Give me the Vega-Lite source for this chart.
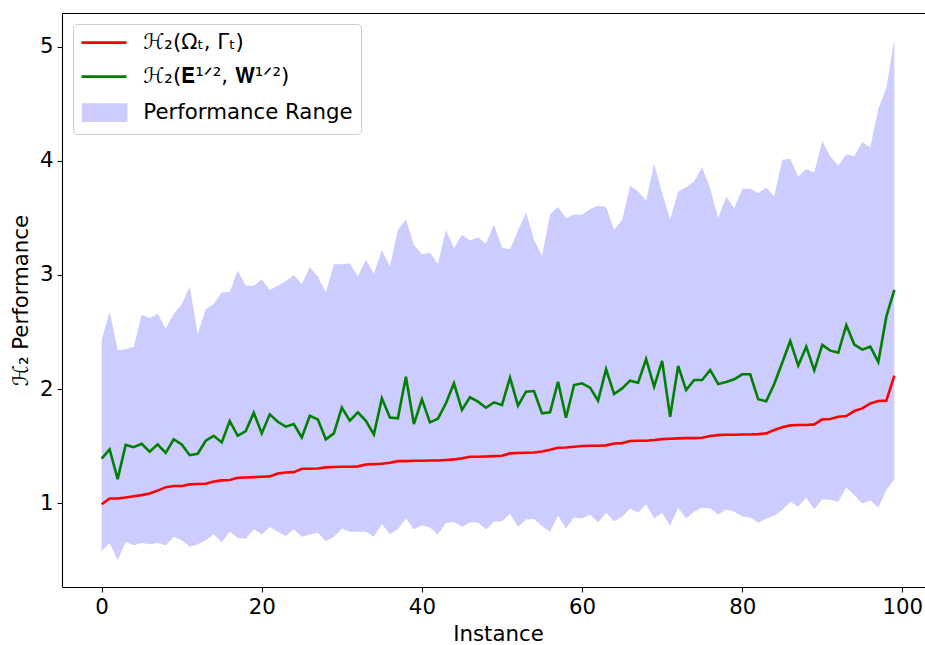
{
  "$schema": "https://vega.github.io/schema/vega-lite/v6.json",
  "width": 863,
  "height": 574,
  "autosize": {"type": "none"},
  "padding": {"left": 62, "top": 13, "right": 0, "bottom": 58},
  "config": {
    "view": {"stroke": null},
    "font": "DejaVu Sans",
    "axis": {
      "grid": false,
      "domainColor": "black",
      "domainWidth": 1.1,
      "tickColor": "black",
      "tickWidth": 1.1,
      "tickSize": 5,
      "labelFont": "DejaVu Sans",
      "labelFontSize": 21.3,
      "labelColor": "black",
      "labelPadding": 4,
      "titleFont": "DejaVu Sans",
      "titleFontSize": 21.3,
      "titleFontWeight": "normal",
      "titleColor": "black"
    },
    "legend": {
      "title": null,
      "orient": "top-left",
      "offset": 11,
      "padding": 8,
      "strokeColor": "#cccccc",
      "fillColor": "rgba(255,255,255,0.8)",
      "cornerRadius": 4,
      "labelFont": "DejaVu Sans",
      "labelFontSize": 21.3,
      "labelColor": "black",
      "labelLimit": 0,
      "symbolSize": 289,
      "symbolStrokeWidth": 2.6,
      "rowPadding": 12,
      "labelOffset": 41
    }
  },
  "data": {
    "values": [
      {"i": 0, "lo": 0.58, "hi": 2.43, "r": 0.99, "g": 1.39},
      {"i": 1, "lo": 0.65, "hi": 2.68, "r": 1.04, "g": 1.47},
      {"i": 2, "lo": 0.5, "hi": 2.34, "r": 1.04, "g": 1.21},
      {"i": 3, "lo": 0.66, "hi": 2.35, "r": 1.05, "g": 1.51},
      {"i": 4, "lo": 0.63, "hi": 2.37, "r": 1.06, "g": 1.49},
      {"i": 5, "lo": 0.65, "hi": 2.65, "r": 1.07, "g": 1.52},
      {"i": 6, "lo": 0.64, "hi": 2.62, "r": 1.085, "g": 1.45},
      {"i": 7, "lo": 0.65, "hi": 2.66, "r": 1.11, "g": 1.515},
      {"i": 8, "lo": 0.63, "hi": 2.53, "r": 1.14, "g": 1.44},
      {"i": 9, "lo": 0.705, "hi": 2.66, "r": 1.15, "g": 1.56},
      {"i": 10, "lo": 0.675, "hi": 2.74, "r": 1.15, "g": 1.515},
      {"i": 11, "lo": 0.617, "hi": 2.9, "r": 1.164, "g": 1.42},
      {"i": 12, "lo": 0.64, "hi": 2.48, "r": 1.167, "g": 1.433},
      {"i": 13, "lo": 0.675, "hi": 2.7, "r": 1.17, "g": 1.547},
      {"i": 14, "lo": 0.728, "hi": 2.746, "r": 1.19, "g": 1.59},
      {"i": 15, "lo": 0.658, "hi": 2.845, "r": 1.199, "g": 1.532},
      {"i": 16, "lo": 0.751, "hi": 2.851, "r": 1.202, "g": 1.719},
      {"i": 17, "lo": 0.693, "hi": 3.038, "r": 1.222, "g": 1.59},
      {"i": 18, "lo": 0.687, "hi": 2.904, "r": 1.225, "g": 1.632},
      {"i": 19, "lo": 0.772, "hi": 2.904, "r": 1.228, "g": 1.792},
      {"i": 20, "lo": 0.725, "hi": 2.962, "r": 1.231, "g": 1.611},
      {"i": 21, "lo": 0.79, "hi": 2.868, "r": 1.234, "g": 1.778},
      {"i": 22, "lo": 0.749, "hi": 2.904, "r": 1.26, "g": 1.713},
      {"i": 23, "lo": 0.713, "hi": 2.947, "r": 1.269, "g": 1.67},
      {"i": 24, "lo": 0.772, "hi": 3.0, "r": 1.272, "g": 1.693},
      {"i": 25, "lo": 0.705, "hi": 2.921, "r": 1.301, "g": 1.576},
      {"i": 26, "lo": 0.725, "hi": 3.067, "r": 1.301, "g": 1.766},
      {"i": 27, "lo": 0.74, "hi": 2.985, "r": 1.304, "g": 1.734},
      {"i": 28, "lo": 0.667, "hi": 2.845, "r": 1.313, "g": 1.559},
      {"i": 29, "lo": 0.705, "hi": 3.093, "r": 1.316, "g": 1.611},
      {"i": 30, "lo": 0.778, "hi": 3.093, "r": 1.319, "g": 1.836},
      {"i": 31, "lo": 0.749, "hi": 3.102, "r": 1.319, "g": 1.722},
      {"i": 32, "lo": 0.749, "hi": 2.985, "r": 1.322, "g": 1.795},
      {"i": 33, "lo": 0.749, "hi": 3.132, "r": 1.339, "g": 1.722},
      {"i": 34, "lo": 0.705, "hi": 3.009, "r": 1.342, "g": 1.602},
      {"i": 35, "lo": 0.816, "hi": 3.219, "r": 1.345, "g": 1.918},
      {"i": 36, "lo": 0.728, "hi": 3.073, "r": 1.354, "g": 1.751},
      {"i": 37, "lo": 0.772, "hi": 3.395, "r": 1.368, "g": 1.743},
      {"i": 38, "lo": 0.866, "hi": 3.488, "r": 1.368, "g": 2.108},
      {"i": 39, "lo": 0.772, "hi": 3.263, "r": 1.371, "g": 1.693},
      {"i": 40, "lo": 0.807, "hi": 3.181, "r": 1.371, "g": 1.91},
      {"i": 41, "lo": 0.787, "hi": 3.196, "r": 1.374, "g": 1.708},
      {"i": 42, "lo": 0.725, "hi": 3.096, "r": 1.374, "g": 1.74},
      {"i": 43, "lo": 0.826, "hi": 3.395, "r": 1.378, "g": 1.875},
      {"i": 44, "lo": 0.836, "hi": 3.234, "r": 1.383, "g": 2.05},
      {"i": 45, "lo": 0.792, "hi": 3.351, "r": 1.392, "g": 1.816},
      {"i": 46, "lo": 0.83, "hi": 3.301, "r": 1.406, "g": 1.927},
      {"i": 47, "lo": 0.83, "hi": 3.33, "r": 1.406, "g": 1.889},
      {"i": 48, "lo": 0.769, "hi": 3.272, "r": 1.409, "g": 1.836},
      {"i": 49, "lo": 0.836, "hi": 3.439, "r": 1.412, "g": 1.883},
      {"i": 50, "lo": 0.842, "hi": 3.24, "r": 1.415, "g": 1.86},
      {"i": 51, "lo": 0.904, "hi": 3.225, "r": 1.436, "g": 2.099},
      {"i": 52, "lo": 0.792, "hi": 3.386, "r": 1.439, "g": 1.854},
      {"i": 53, "lo": 0.857, "hi": 3.55, "r": 1.442, "g": 1.977},
      {"i": 54, "lo": 0.86, "hi": 3.307, "r": 1.444, "g": 1.982},
      {"i": 55, "lo": 0.798, "hi": 3.167, "r": 1.453, "g": 1.787},
      {"i": 56, "lo": 0.749, "hi": 3.532, "r": 1.468, "g": 1.795},
      {"i": 57, "lo": 0.889, "hi": 3.594, "r": 1.485, "g": 2.064},
      {"i": 58, "lo": 0.778, "hi": 3.497, "r": 1.488, "g": 1.748},
      {"i": 59, "lo": 0.874, "hi": 3.529, "r": 1.494, "g": 2.035},
      {"i": 60, "lo": 0.866, "hi": 3.526, "r": 1.5, "g": 2.05},
      {"i": 61, "lo": 0.901, "hi": 3.576, "r": 1.503, "g": 2.012},
      {"i": 62, "lo": 0.83, "hi": 3.605, "r": 1.503, "g": 1.898},
      {"i": 63, "lo": 0.915, "hi": 3.594, "r": 1.506, "g": 2.173},
      {"i": 64, "lo": 0.842, "hi": 3.395, "r": 1.523, "g": 1.956},
      {"i": 65, "lo": 0.88, "hi": 3.482, "r": 1.526, "g": 2.005},
      {"i": 66, "lo": 0.953, "hi": 3.781, "r": 1.544, "g": 2.073},
      {"i": 67, "lo": 0.915, "hi": 3.731, "r": 1.547, "g": 2.055},
      {"i": 68, "lo": 0.991, "hi": 3.652, "r": 1.547, "g": 2.263},
      {"i": 69, "lo": 0.866, "hi": 3.974, "r": 1.553, "g": 2.02},
      {"i": 70, "lo": 0.915, "hi": 3.716, "r": 1.561, "g": 2.246},
      {"i": 71, "lo": 0.801, "hi": 3.488, "r": 1.564, "g": 1.757},
      {"i": 72, "lo": 0.959, "hi": 3.731, "r": 1.567, "g": 2.202},
      {"i": 73, "lo": 0.866, "hi": 3.769, "r": 1.57, "g": 1.991},
      {"i": 74, "lo": 0.924, "hi": 3.819, "r": 1.57, "g": 2.079},
      {"i": 75, "lo": 0.959, "hi": 3.944, "r": 1.573, "g": 2.079},
      {"i": 76, "lo": 0.953, "hi": 3.76, "r": 1.588, "g": 2.167},
      {"i": 77, "lo": 0.901, "hi": 3.497, "r": 1.596, "g": 2.044},
      {"i": 78, "lo": 0.944, "hi": 3.687, "r": 1.599, "g": 2.061},
      {"i": 79, "lo": 0.924, "hi": 3.585, "r": 1.599, "g": 2.085},
      {"i": 80, "lo": 0.886, "hi": 3.754, "r": 1.602, "g": 2.129},
      {"i": 81, "lo": 0.874, "hi": 3.754, "r": 1.602, "g": 2.129},
      {"i": 82, "lo": 0.828, "hi": 3.716, "r": 1.605, "g": 1.91},
      {"i": 83, "lo": 0.866, "hi": 3.766, "r": 1.611, "g": 1.892},
      {"i": 84, "lo": 0.889, "hi": 3.687, "r": 1.64, "g": 2.044},
      {"i": 85, "lo": 0.939, "hi": 4.009, "r": 1.664, "g": 2.23},
      {"i": 86, "lo": 1.012, "hi": 4.018, "r": 1.681, "g": 2.421},
      {"i": 87, "lo": 0.968, "hi": 3.863, "r": 1.684, "g": 2.205},
      {"i": 88, "lo": 1.048, "hi": 3.927, "r": 1.684, "g": 2.371},
      {"i": 89, "lo": 0.947, "hi": 3.898, "r": 1.69, "g": 2.164},
      {"i": 90, "lo": 1.033, "hi": 4.175, "r": 1.734, "g": 2.386},
      {"i": 91, "lo": 1.029, "hi": 4.038, "r": 1.737, "g": 2.336},
      {"i": 92, "lo": 1.012, "hi": 3.959, "r": 1.757, "g": 2.319},
      {"i": 93, "lo": 1.14, "hi": 4.058, "r": 1.763, "g": 2.56},
      {"i": 94, "lo": 1.07, "hi": 4.038, "r": 1.807, "g": 2.39},
      {"i": 95, "lo": 0.997, "hi": 4.164, "r": 1.83, "g": 2.345},
      {"i": 96, "lo": 1.023, "hi": 4.117, "r": 1.874, "g": 2.371},
      {"i": 97, "lo": 0.962, "hi": 4.456, "r": 1.895, "g": 2.237},
      {"i": 98, "lo": 1.114, "hi": 4.637, "r": 1.898, "g": 2.634},
      {"i": 99, "lo": 1.208, "hi": 5.061, "r": 2.117, "g": 2.868}
    ]
  },
  "layer": [
    {
      "mark": {"type": "area", "opacity": 1},
      "encoding": {
        "x": {
          "field": "i",
          "type": "quantitative",
          "scale": {"domain": [-4.95, 102.83], "nice": false, "zero": false},
          "axis": {"orient": "bottom", "values": [0, 20, 40, 60, 80, 100], "format": "d", "title": "Instance", "titlePadding": 6, "titleX": 436}
        },
        "y": {
          "field": "lo",
          "type": "quantitative",
          "scale": {"domain": [0.265, 5.295], "nice": false, "zero": false},
          "axis": {"values": [1, 2, 3, 4, 5], "format": "d", "titlePadding": 8},
          "title": "ℋ₂ Performance"
        },
        "y2": {"field": "hi"},
        "color": {
          "datum": "Performance Range",
          "scale": {
            "domain": ["ℋ₂(Ωₜ, Γₜ)", "ℋ₂(𝐄¹ᐟ², 𝐖¹ᐟ²)", "Performance Range"],
            "range": ["#ff0000", "#008000", "#ccccff"]
          },
          "legend": {
            "symbolType": "M-1.2,0H4.1",
            "encode": {
              "symbols": {
                "update": {
                  "shape": {"signal": "datum.value === 'Performance Range' ? 'M-1,-0.94H4.06V0.94H-1Z' : 'M-1.2,0H4.1'"},
                  "fill": {"signal": "datum.value === 'Performance Range' ? '#ccccff' : 'transparent'"},
                  "stroke": {"signal": "datum.value === 'Performance Range' ? 'transparent' : (datum.index === 0 ? '#ff0000' : '#008000')"},
                  "strokeWidth": {"value": 2.6},
                  "opacity": {"value": 1}
                }
              }
            }
          }
        }
      }
    },
    {
      "mark": {"type": "line", "strokeWidth": 2.6},
      "encoding": {
        "x": {
          "field": "i",
          "type": "quantitative",
          "axis": {"orient": "top", "labels": false, "ticks": false, "title": null, "domain": true}
        },
        "y": {"field": "r", "type": "quantitative", "title": "ℋ₂ Performance"},
        "color": {
          "datum": "ℋ₂(Ωₜ, Γₜ)",
          "legend": {
            "symbolType": "M-1.2,0H4.1",
            "encode": {
              "symbols": {
                "update": {
                  "shape": {"signal": "datum.value === 'Performance Range' ? 'M-1,-0.94H4.06V0.94H-1Z' : 'M-1.2,0H4.1'"},
                  "fill": {"signal": "datum.value === 'Performance Range' ? '#ccccff' : 'transparent'"},
                  "stroke": {"signal": "datum.value === 'Performance Range' ? 'transparent' : (datum.index === 0 ? '#ff0000' : '#008000')"},
                  "strokeWidth": {"value": 2.6},
                  "opacity": {"value": 1}
                }
              }
            }
          }
        }
      }
    },
    {
      "mark": {"type": "line", "strokeWidth": 2.6},
      "encoding": {
        "x": {"field": "i", "type": "quantitative", "axis": null},
        "y": {"field": "g", "type": "quantitative", "title": "ℋ₂ Performance"},
        "color": {
          "datum": "ℋ₂(𝐄¹ᐟ², 𝐖¹ᐟ²)",
          "legend": {
            "symbolType": "M-1.2,0H4.1",
            "encode": {
              "symbols": {
                "update": {
                  "shape": {"signal": "datum.value === 'Performance Range' ? 'M-1,-0.94H4.06V0.94H-1Z' : 'M-1.2,0H4.1'"},
                  "fill": {"signal": "datum.value === 'Performance Range' ? '#ccccff' : 'transparent'"},
                  "stroke": {"signal": "datum.value === 'Performance Range' ? 'transparent' : (datum.index === 0 ? '#ff0000' : '#008000')"},
                  "strokeWidth": {"value": 2.6},
                  "opacity": {"value": 1}
                }
              }
            }
          }
        }
      }
    }
  ],
  "resolve": {"axis": {"x": "independent"}}
}
